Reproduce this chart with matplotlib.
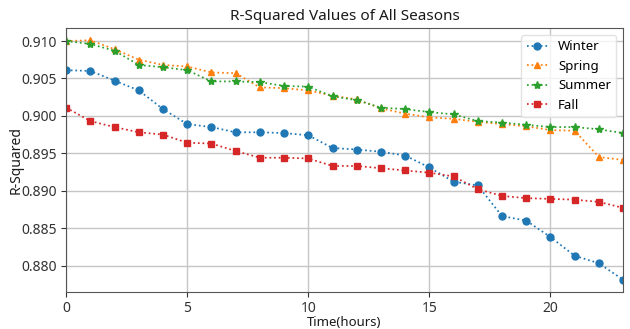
import matplotlib
matplotlib.use("Agg")
import matplotlib.pyplot as plt

plt.rcParams['font.family'] = ['Noto Sans', 'DejaVu Sans']

hours = list(range(24))

winter = [0.9061, 0.9060, 0.9047, 0.9034, 0.9009, 0.8989, 0.8985, 0.8978,
          0.8978, 0.8977, 0.8974, 0.8957, 0.8955, 0.8952, 0.8947, 0.8931,
          0.8912, 0.8907, 0.8866, 0.8860, 0.8838, 0.8813, 0.8803, 0.8781]
spring = [0.9100, 0.9101, 0.9089, 0.9075, 0.9068, 0.9066, 0.9058, 0.9057,
          0.9038, 0.9037, 0.9034, 0.9027, 0.9022, 0.9010, 0.9003, 0.8998,
          0.8996, 0.8992, 0.8989, 0.8986, 0.8981, 0.8980, 0.8945, 0.8941]
summer = [0.9100, 0.9096, 0.9087, 0.9068, 0.9065, 0.9061, 0.9046, 0.9046,
          0.9045, 0.9040, 0.9039, 0.9026, 0.9021, 0.9011, 0.9009, 0.9005,
          0.9002, 0.8993, 0.8991, 0.8988, 0.8985, 0.8985, 0.8982, 0.8977]
fall = [0.9011, 0.8993, 0.8985, 0.8978, 0.8975, 0.8964, 0.8963, 0.8953,
        0.8944, 0.8944, 0.8943, 0.8933, 0.8933, 0.8930, 0.8927, 0.8924,
        0.8919, 0.8902, 0.8893, 0.8890, 0.8889, 0.8888, 0.8885, 0.8877]

series = [
    ("Winter", winter, "o", "#1f77b4", 5),
    ("Spring", spring, "^", "#ff7f0e", 5),
    ("Summer", summer, "*", "#2ca02c", 6),
    ("Fall", fall, "s", "#d62728", 4.5),
]

fig = plt.figure(figsize=(6.3, 3.29), dpi=100)
ax = fig.add_axes([0.105, 0.1134, 0.884, 0.8006])

for name, vals, marker, color, ms in series:
    ax.plot(hours, vals, linestyle=':', marker=marker, color=color,
            markersize=ms, linewidth=1.25, label=name)

ax.set_xlim(0, 23)
ax.set_xticks([0, 5, 10, 15, 20])
ax.set_yticks([0.880, 0.885, 0.890, 0.895, 0.900, 0.905, 0.910])
ax.yaxis.set_major_formatter(matplotlib.ticker.FormatStrFormatter('%.3f'))
ax.grid(True, color='#c6c6c6', linewidth=1.0)
ax.set_axisbelow(True)
for s in ax.spines.values():
    s.set_color('#555555')

ax.tick_params(labelsize=10, colors='#333333', length=3.5)
ax.set_title("R-Squared Values of All Seasons", fontsize=11, color='#1a1a1a')
ax.set_xlabel("Time(hours)", fontsize=9.5, color='#1a1a1a')
ax.xaxis.set_label_coords(0.5, -0.092)
ax.set_ylabel("R-Squared", fontsize=10, color='#1a1a1a')
ax.yaxis.set_label_coords(-0.077, 0.5)

ax.legend(loc='upper right', fontsize=9.5, framealpha=0.8,
          edgecolor='#dddddd', handlelength=1.6)

fig.savefig("out.png", dpi=100)
